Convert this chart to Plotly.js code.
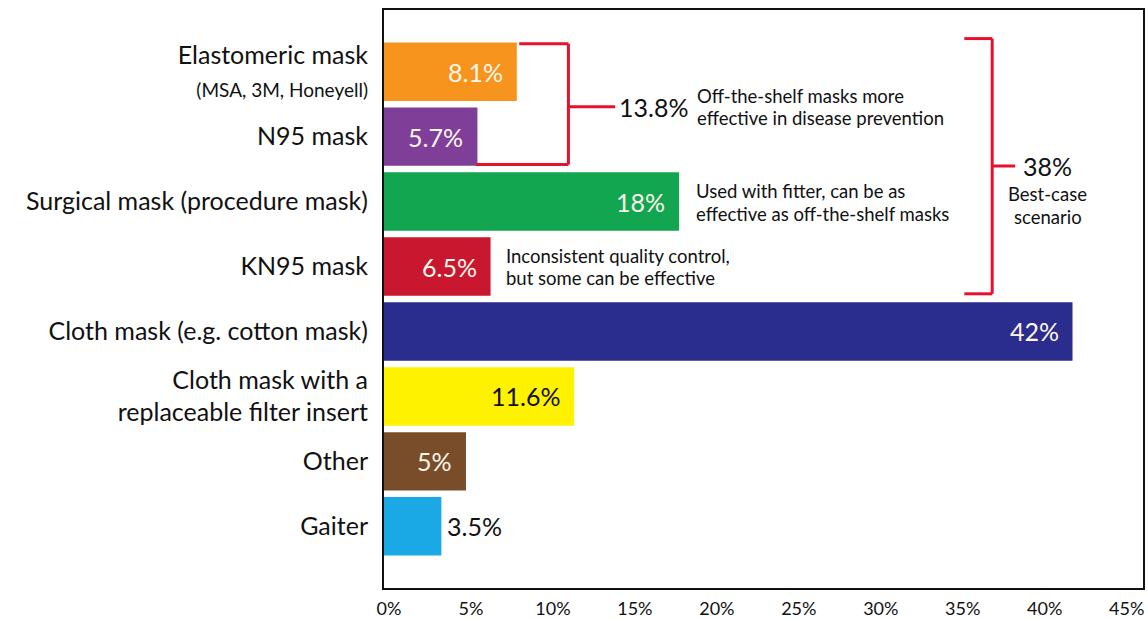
<!DOCTYPE html>
<html>
<head>
<meta charset="utf-8">
<script src="https://cdn.plot.ly/plotly-3.0.1.min.js"></script>
<style>html,body{margin:0;padding:0;background:#fff;}#chart{width:1148px;height:619px;}</style>
</head>
<body>
<div id="chart"></div>
<script>
const categories = [
  "Elastomeric mask<br><span style='font-size:19px'>(MSA, 3M, Honeyell)</span>",
  "N95 mask",
  "Surgical mask (procedure mask)",
  "KN95 mask",
  "Cloth mask (e.g. cotton mask)",
  "Cloth mask with a<br>replaceable filter insert",
  "Other",
  "Gaiter"
];
const values = [8.1, 5.7, 18, 6.5, 42, 11.6, 5, 3.5];
const barColors = ["#F7941D", "#7F3F98", "#13A651", "#C8172E", "#2B2D8E", "#FFF200", "#7A4D2A", "#1BA9E6"];
const labelColors = ["#fdf7ea", "#fdf7ea", "#fdf7ea", "#fdf7ea", "#fdf7ea", "#111111", "#fdf7ea", "#111111"];
const tickVals = [0, 5, 10, 15, 20, 25, 30, 35, 40, 45];
const tickText = ["0%", "5%", "10%", "15%", "20%", "25%", "30%", "35%", "40%", "45%"];

// callout notes: one entry per text line
const noteTexts = ["13.8%", "Off-the-shelf masks more", "effective in disease prevention",
  "38%", "Best-case", "scenario",
  "Used with fitter, can be as", "effective as off-the-shelf masks",
  "Inconsistent quality control,", "but some can be effective"];

const FONT = "Lato, 'Open Sans', sans-serif";
const idx = categories.map((c, i) => i);

const trace = {
  type: "bar",
  orientation: "h",
  x: values,
  y: idx,
  marker: {color: barColors, line: {width: 0}},
  hoverinfo: "skip"
};

const annotations = values.map((v, i) => {
  const outside = v < 4;
  return {
    x: v, y: i, xref: "x", yref: "y",
    text: v + "%",
    showarrow: false,
    xanchor: outside ? "left" : "right",
    xshift: outside ? 4 : -12,
    font: {family: FONT, size: 25, color: labelColors[i]}
  };
});

const notePos = [
  {x: 14.2, y: 0.54, size: 25, xanchor: "left"},
  {x: 19.0, y: 0.370, size: 18.5, xanchor: "left"},
  {x: 19.0, y: 0.717, size: 18.5, xanchor: "left"},
  {x: 40.5, y: 1.452, size: 25, xanchor: "center"},
  {x: 40.5, y: 1.883, size: 18.5, xanchor: "center"},
  {x: 40.5, y: 2.230, size: 18.5, xanchor: "center"},
  {x: 18.9, y: 1.841, size: 18.5, xanchor: "left"},
  {x: 18.9, y: 2.187, size: 18.5, xanchor: "left"},
  {x: 7.35, y: 2.834, size: 18.5, xanchor: "left"},
  {x: 7.35, y: 3.181, size: 18.5, xanchor: "left"}
];
noteTexts.forEach((t, i) => {
  const n = notePos[i];
  annotations.push({
    x: n.x, y: n.y, xref: "x", yref: "y", text: t, showarrow: false,
    xanchor: n.xanchor, yanchor: "middle", align: n.xanchor === "center" ? "center" : "left",
    font: {family: FONT, size: n.size, color: "#111"}
  });
});

const red = "#E8112D";
const line = {color: red, width: 3};
const shapes = [
  // bracket 1 (Elastomeric + N95)
  {type: "line", xref: "x", yref: "y", x0: 8.25, x1: 11.25, y0: -0.43, y1: -0.43, line},
  {type: "line", xref: "x", yref: "y", x0: 11.25, x1: 11.25, y0: -0.43, y1: 1.43, line},
  {type: "line", xref: "x", yref: "y", x0: 5.6, x1: 11.25, y0: 1.43, y1: 1.43, line},
  {type: "line", xref: "x", yref: "y", x0: 11.25, x1: 14.1, y0: 0.54, y1: 0.54, line},
  // bracket 2 (first four)
  {type: "line", xref: "x", yref: "y", x0: 35.4, x1: 37.1, y0: -0.51, y1: -0.51, line},
  {type: "line", xref: "x", yref: "y", x0: 37.1, x1: 37.1, y0: -0.51, y1: 3.42, line},
  {type: "line", xref: "x", yref: "y", x0: 35.4, x1: 37.1, y0: 3.42, y1: 3.42, line},
  {type: "line", xref: "x", yref: "y", x0: 37.1, x1: 38.5, y0: 1.452, y1: 1.452, line}
];

const layout = {
  width: 1148, height: 619,
  margin: {l: 384, r: 5, t: 10, b: 31, pad: 0},
  paper_bgcolor: "#fff", plot_bgcolor: "#fff",
  showlegend: false,
  bargap: 0.1,
  font: {family: FONT, color: "#111"},
  xaxis: {
    range: [0, 46.3], tickvals: tickVals, ticktext: tickText,
    showgrid: false, zeroline: false, ticks: "",
    showline: true, mirror: true, linecolor: "#111", linewidth: 2,
    ticklabelshift: 5, ticklabelstandoff: 3,
    tickfont: {family: FONT, size: 18, color: "#111"}, fixedrange: true
  },
  yaxis: {
    range: [7.95, -0.95], tickvals: idx, ticktext: categories,
    showgrid: false, zeroline: false, ticks: "",
    showline: true, mirror: true, linecolor: "#111", linewidth: 2,
    ticklabelstandoff: 9,
    tickfont: {family: FONT, size: 25, color: "#111"}, fixedrange: true
  },
  shapes, annotations
};

Plotly.newPlot("chart", [trace], layout, {displayModeBar: false, staticPlot: true});
</script>
</body>
</html>
